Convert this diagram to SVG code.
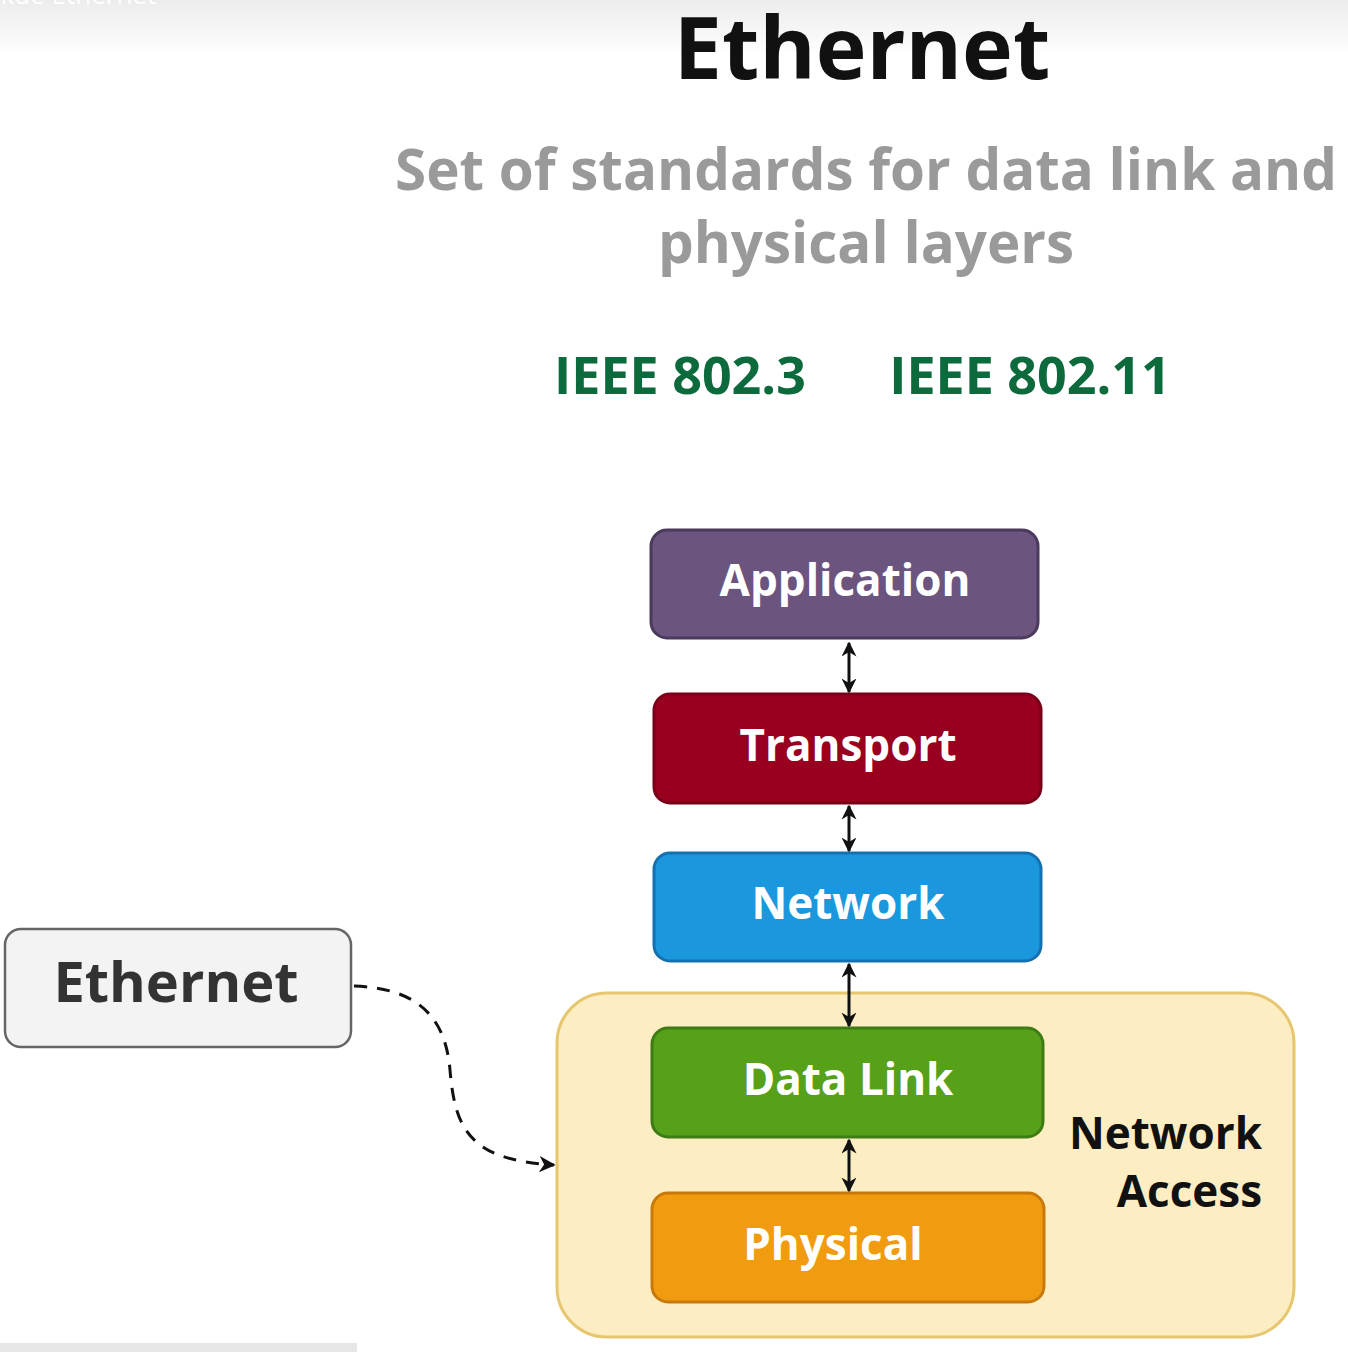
<svg xmlns="http://www.w3.org/2000/svg" width="1348" height="1352" viewBox="0 0 1348 1352">
<defs>
<linearGradient id="band" x1="0" y1="0" x2="0" y2="1">
<stop offset="0" stop-color="#ececec"/>
<stop offset="1" stop-color="#ffffff"/>
</linearGradient>
<marker id="ah" viewBox="0 0 10 10" refX="9" refY="5" markerWidth="5" markerHeight="5" orient="auto-start-reverse">
<path d="M0,0 L10,5 L0,10 L3,5 Z" fill="#111"/>
</marker>
<marker id="ah2" viewBox="0 0 10 10" refX="9" refY="5" markerWidth="5.5" markerHeight="5.5" orient="auto">
<path d="M0,0 L10,5 L0,10 L3,5 Z" fill="#111"/>
</marker>
</defs>
<style>
text{font-family:"Open Sans","Noto Sans","DejaVu Sans",sans-serif;font-weight:700}
.lbl{fill:#fff;font-size:44px;text-anchor:middle}
.box{stroke-width:3}
.conn{stroke:#111;stroke-width:3;fill:none}
</style>
<rect x="0" y="0" width="1348" height="1352" fill="#fff"/>
<rect x="0" y="0" width="1348" height="56" fill="url(#band)"/>
<text x="-6" y="4" style="font-size:26px;font-weight:400;fill:#fff">ikue Ethernet</text>
<rect x="0" y="1343" width="357" height="9" fill="#e6e6e6"/>

<g id="title">
<text x="862" y="79" style="font-size:86px;fill:#111;text-anchor:middle">Ethernet</text>
</g>
<g id="subtitle">
<text x="866" y="190" style="font-size:56.5px;fill:#9a9a9a;text-anchor:middle">Set of standards for data link and</text>
<text x="866" y="263" style="font-size:56.5px;fill:#9a9a9a;text-anchor:middle">physical layers</text>
</g>
<g id="ieee8023"><text x="680" y="394" style="font-size:52px;fill:#0c6a3c;text-anchor:middle">IEEE 802.3</text></g>
<g id="ieee80211"><text x="1030" y="394" style="font-size:52px;fill:#0c6a3c;text-anchor:middle">IEEE 802.11</text></g>

<g id="network-access">
<rect x="557" y="993" width="737" height="344" rx="50" fill="#fcedc2" stroke="#e6c66e" stroke-width="3"/>
<text x="1262" y="1149" style="font-size:44px;fill:#111;text-anchor:end">Network</text>
<text x="1262" y="1207" style="font-size:44px;fill:#111;text-anchor:end">Access</text>
</g>

<g id="application">
<rect class="box" x="651" y="530" width="387" height="108" rx="16" fill="#6b547e" stroke="#4a3a5c"/>
<text class="lbl" x="845" y="596">Application</text>
</g>
<g id="transport">
<rect class="box" x="654" y="694" width="387" height="109" rx="16" fill="#99001f" stroke="#780018"/>
<text class="lbl" x="848" y="761">Transport</text>
</g>
<g id="network">
<rect class="box" x="654" y="853" width="387" height="108" rx="16" fill="#1b97dd" stroke="#1570b2"/>
<text class="lbl" x="848" y="919">Network</text>
</g>
<g id="datalink">
<rect class="box" x="652" y="1028" width="391" height="109" rx="16" fill="#56a01a" stroke="#3d7c12"/>
<text class="lbl" x="848" y="1095">Data Link</text>
</g>
<g id="physical">
<rect class="box" x="652" y="1193" width="392" height="109" rx="16" fill="#f09b10" stroke="#c8790a"/>
<text class="lbl" x="833" y="1260">Physical</text>
</g>
<g id="ethernet">
<rect x="5" y="929" width="346" height="118" rx="16" fill="#f3f3f3" stroke="#666" stroke-width="2.5"/>
<text x="176" y="1002" style="font-size:56px;fill:#333;text-anchor:middle">Ethernet</text>
</g>

<g id="connectors">
<line class="conn" x1="849" y1="643" x2="849" y2="692" marker-start="url(#ah)" marker-end="url(#ah)"/>
<line class="conn" x1="849" y1="806" x2="849" y2="851" marker-start="url(#ah)" marker-end="url(#ah)"/>
<line class="conn" x1="849" y1="964" x2="849" y2="1026" marker-start="url(#ah)" marker-end="url(#ah)"/>
<line class="conn" x1="849" y1="1140" x2="849" y2="1191" marker-start="url(#ah)" marker-end="url(#ah)"/>
<path class="conn" d="M354,986 C410,988 445,1010 450,1070 C455,1130 470,1160 554,1165" stroke-width="3.5" stroke-dasharray="13,10" marker-end="url(#ah2)"/>
</g>
</svg>
